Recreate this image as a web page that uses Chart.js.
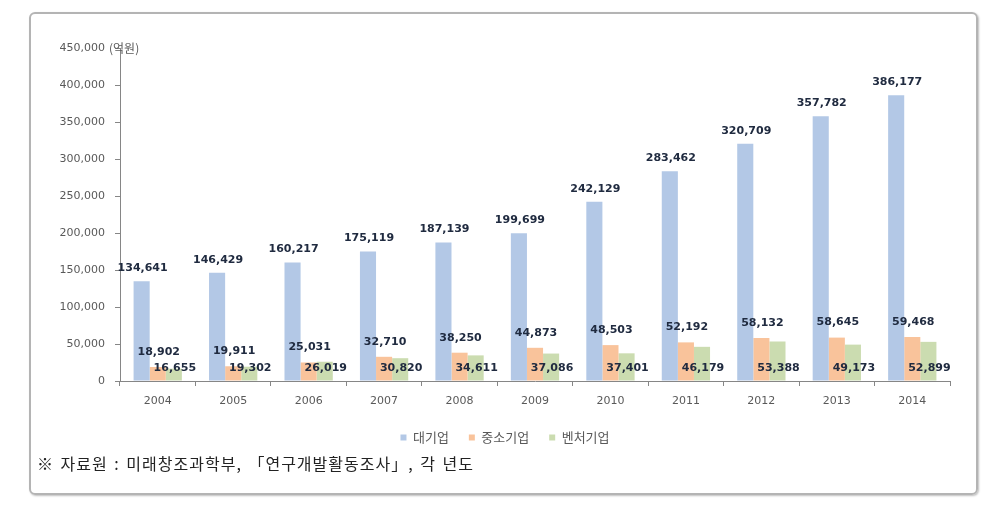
<!DOCTYPE html>
<html>
<head>
<meta charset="utf-8">
<script src="https://cdn.jsdelivr.net/npm/chart.js@4/dist/chart.umd.min.js"></script>
<style>
  html, body { margin: 0; padding: 0; background: #ffffff; }
  #frame {
    position: absolute; left: 29px; top: 12px; width: 945px; height: 479px;
    border: 2px solid #b4b4b4; border-radius: 6px;
    box-shadow: 1px 1px 2px rgba(0,0,0,0.25);
  }
  #wrap { position: absolute; left: 0; top: 0; width: 999px; height: 505px; }
  #note {
    position: absolute; left: 37px; top: 452px; height: 22px; line-height: 22px;
    font-family: 'Noto Sans CJK KR', sans-serif; font-size: 16px; color: #222222;
    letter-spacing: 1px; word-spacing: 2px; white-space: nowrap;
  }
</style>
</head>
<body>
<div id="frame"></div>
<div id="wrap"><canvas id="c"></canvas></div>
<div id="note">※ 자료원 : 미래창조과학부, 「연구개발활동조사」, 각 년도</div>
<script>
const years = ['2004','2005','2006','2007','2008','2009','2010','2011','2012','2013','2014'];
const largeFirms = [134641,146429,160217,175119,187139,199699,242129,283462,320709,357782,386177];
const smallFirms = [18902,19911,25031,32710,38250,44873,48503,52192,58132,58645,59468];
const ventureFirms = [16655,19302,26019,30820,34611,37086,37401,46179,53388,49173,52899];
const seriesNames = ['대기업','중소기업','벤처기업'];
const unitLabel = '(억원)';

const fmt = v => Number(v).toLocaleString('en-US');

const labelPlugin = {
  id: 'barLabels',
  afterDatasetsDraw(chart) {
    const ctx = chart.ctx;
    const base = chart.scales.y.getPixelForValue(0);
    ctx.save();
    ctx.font = 'bold 11px "DejaVu Sans"';
    ctx.fillStyle = '#202b40';
    ctx.textAlign = 'center';
    ctx.textBaseline = 'middle';
    chart.data.datasets.forEach((ds, di) => {
      const meta = chart.getDatasetMeta(di);
      meta.data.forEach((el, i) => {
        let y;
        if (di === 0) y = el.y - 13;
        else if (di === 1) y = el.y - 15;
        else y = base - 13;
        ctx.fillText(fmt(ds.data[i]), el.x + 1, y);
      });
    });
    ctx.restore();
  },
  afterDraw(chart) {
    const ctx = chart.ctx;
    const ys = chart.scales.y;
    ctx.save();
    ctx.font = '12px "Noto Sans CJK KR"';
    ctx.fillStyle = '#595959';
    ctx.textAlign = 'left';
    ctx.textBaseline = 'middle';
    ctx.fillText(unitLabel, 109, ys.getPixelForValue(450000));
    ctx.restore();
  }
};

new Chart(document.getElementById('c'), {
  type: 'bar',
  data: {
    labels: years,
    datasets: [
      { label: seriesNames[0], data: largeFirms, backgroundColor: '#b3c8e6' },
      { label: seriesNames[1], data: smallFirms, backgroundColor: '#f9c39b' },
      { label: seriesNames[2], data: ventureFirms, backgroundColor: '#cbdcb0' }
    ]
  },
  options: {
    responsive: true,
    maintainAspectRatio: false,
    animation: false,
    layout: { padding: { left: 60, right: 49, top: 48, bottom: 51 } },
    datasets: { bar: { categoryPercentage: 0.64, barPercentage: 1.0 } },
    scales: {
      x: {
        afterFit: s => { s.height = 30; },
        grid: { display: true, drawOnChartArea: false, drawTicks: true, tickLength: 5, color: '#868686', offset: true },
        border: { display: true, color: '#868686', width: 1 },
        ticks: { color: '#595959', font: { family: 'DejaVu Sans', size: 11 }, padding: 9, maxRotation: 0 }
      },
      y: {
        min: 0, max: 450000,
        afterFit: s => { s.width = 60; },
        grid: { display: true, drawOnChartArea: false, drawTicks: true, tickLength: 5, color: '#868686' },
        border: { display: true, color: '#868686', width: 1 },
        ticks: { stepSize: 50000, color: '#595959', font: { family: 'DejaVu Sans', size: 11 }, padding: 10,
                 callback: v => fmt(v) }
      }
    },
    plugins: {
      legend: {
        position: 'bottom',
        labels: { boxWidth: 6, boxHeight: 6, padding: 20, color: '#595959',
                  font: { family: 'Noto Sans CJK KR', size: 13 } }
      },
      tooltip: { enabled: false }
    }
  },
  plugins: [labelPlugin]
});
</script>
</body>
</html>
